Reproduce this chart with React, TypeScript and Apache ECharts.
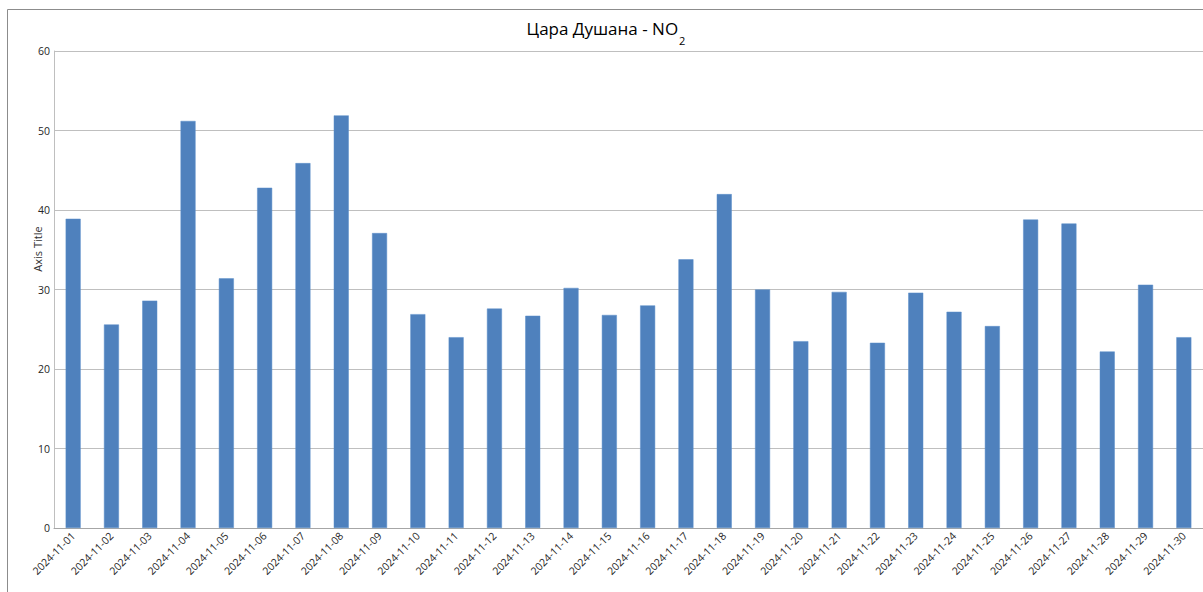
import React, { useEffect, useRef } from "react";
import * as echarts from "echarts";

const categories = [
  "2024-11-01", "2024-11-02", "2024-11-03", "2024-11-04", "2024-11-05",
  "2024-11-06", "2024-11-07", "2024-11-08", "2024-11-09", "2024-11-10",
  "2024-11-11", "2024-11-12", "2024-11-13", "2024-11-14", "2024-11-15",
  "2024-11-16", "2024-11-17", "2024-11-18", "2024-11-19", "2024-11-20",
  "2024-11-21", "2024-11-22", "2024-11-23", "2024-11-24", "2024-11-25",
  "2024-11-26", "2024-11-27", "2024-11-28", "2024-11-29", "2024-11-30",
];

const no2Values = [
  38.9, 25.6, 28.6, 51.2, 31.4, 42.8, 45.9, 51.9, 37.1, 26.9,
  24.0, 27.6, 26.7, 30.2, 26.8, 28.0, 33.8, 42.0, 30.0, 23.5,
  29.7, 23.3, 29.6, 27.2, 25.4, 38.8, 38.3, 22.2, 30.6, 24.0,
];

const yTicks = { min: 0, max: 60, interval: 10 };

const titleText = "{m|Цара Душана - NO}{sub|2}";
const yAxisTitle = "Axis Title";

export default function App() {
  const ref = useRef<HTMLDivElement>(null);

  useEffect(() => {
    if (!ref.current) return;
    const chart = echarts.init(ref.current, null, { renderer: "svg" });
    const font = "'Open Sans', 'Noto Sans', sans-serif";
    chart.setOption({
      animation: false,
      backgroundColor: "#ffffff",
      title: {
        text: titleText,
        left: 601,
        top: 15,
        textAlign: "center",
        textStyle: {
          fontFamily: font,
          fontSize: 17,
          fontWeight: "normal",
          color: "#000000",
          rich: {
            m: {
              fontFamily: font,
              fontSize: 17,
              color: "#000000",
              lineHeight: 24,
              verticalAlign: "top",
            },
            sub: {
              fontFamily: font,
              fontSize: 11,
              color: "#000000",
              lineHeight: 12,
              verticalAlign: "top",
              padding: [15, 0, 0, 1],
            },
          },
        },
      },
      graphic: [
        {
          type: "line",
          shape: { x1: 7.5, y1: 9.5, x2: 1203, y2: 9.5 },
          style: { stroke: "#8c8c8c", lineWidth: 1 },
          silent: true,
        },
        {
          type: "line",
          shape: { x1: 7.5, y1: 9.5, x2: 7.5, y2: 592 },
          style: { stroke: "#8c8c8c", lineWidth: 1 },
          silent: true,
        },
        {
          type: "text",
          x: 37,
          y: 249,
          rotation: Math.PI / 2,
          style: {
            text: yAxisTitle,
            fontFamily: font,
            fontSize: 11,
            fill: "#333333",
            align: "center",
            verticalAlign: "middle",
          },
          silent: true,
        },
      ],
      grid: {
        left: 54,
        top: 51,
        width: 1150,
        height: 477,
        containLabel: false,
      },
      xAxis: {
        type: "category",
        data: categories,
        axisLine: { show: true, lineStyle: { color: "#a6a6a6", width: 1 } },
        axisTick: { show: false },
        axisLabel: {
          interval: 0,
          rotate: 45,
          margin: 6,
          fontFamily: font,
          fontSize: 10.5,
          color: "#262626",
        },
      },
      yAxis: {
        type: "value",
        min: yTicks.min,
        max: yTicks.max,
        interval: yTicks.interval,
        axisLine: { show: true, lineStyle: { color: "#bfbfbf", width: 1 } },
        axisTick: { show: false },
        splitLine: { show: true, lineStyle: { color: "#bfbfbf", width: 1 } },
        axisLabel: {
          margin: 4,
          fontFamily: font,
          fontSize: 10.5,
          color: "#262626",
        },
      },
      series: [
        {
          type: "bar",
          data: no2Values,
          barWidth: 15,
          itemStyle: { color: "#4f81bd", borderColor: "#5b8fcb", borderWidth: 0.5 },
        },
      ],
    });
    return () => chart.dispose();
  }, []);

  return (
    <div
      ref={ref}
      style={{ position: "absolute", left: 0, top: 0, width: 1203, height: 592 }}
    />
  );
}
